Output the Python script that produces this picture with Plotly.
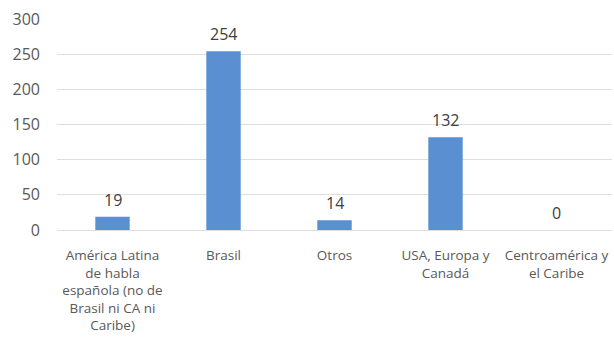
import plotly.graph_objects as go

categories = [
    "América Latina<br>de habla<br>española (no de<br>Brasil ni CA ni<br>Caribe)",
    "Brasil",
    "Otros",
    "USA, Europa y<br>Canadá",
    "Centroamérica y<br>el Caribe",
]
values = [19, 254, 14, 132, 0]
y_ticks = [0, 50, 100, 150, 200, 250, 300]

fig = go.Figure()
fig.add_trace(go.Bar(
    x=categories, y=values,
    marker=dict(color="#5a90d2", line=dict(width=0)),
    width=0.31,
))
for c, v in zip(categories, values):
    fig.add_annotation(x=c, y=v, text=str(v), showarrow=False,
                       yanchor="bottom", yshift=4,
                       font=dict(family="Open Sans", size=16, color="#404040"))

fig.update_layout(
    width=614, height=339,
    margin=dict(l=57, r=2, t=19, b=109),
    paper_bgcolor="white", plot_bgcolor="white",
    showlegend=False,
    font=dict(family="Open Sans", color="#595959"),
)
fig.update_yaxes(range=[0, 300], tickvals=y_ticks, showgrid=True,
                 gridcolor="#dedede", gridwidth=1, zeroline=False,
                 tickfont=dict(size=16, color="#595959"), ticklabelstandoff=16,
                 showline=False)
fig.update_xaxes(showline=True, linecolor="#dedede", linewidth=1,
                 tickfont=dict(size=13.5, color="#595959"), tickangle=0,
                 ticklabelstandoff=13)
fig.write_html("out.html")
